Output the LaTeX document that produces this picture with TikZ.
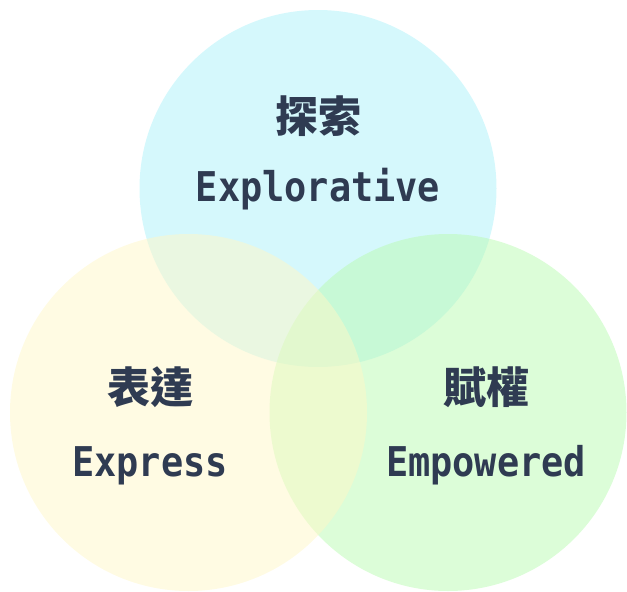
\documentclass[tikz,border=0pt]{standalone}
\usepackage{fontspec}
\newfontfamily\cjk{Noto Sans CJK TC}
\newfontfamily\latinmono[FakeStretch=0.9]{DejaVu Sans Mono}
\definecolor{txt}{HTML}{2F3B52}
\definecolor{topc}{HTML}{ABF1F9}
\definecolor{leftc}{HTML}{FFF7C7}
\definecolor{rightc}{HTML}{B9FBB1}
\begin{document}
\begin{tikzpicture}[x=1pt,y=-1pt,
  venn/.style={circle,minimum size=357pt,inner sep=0pt,draw=none,fill opacity=0.5},
  zh/.style={text=txt,font=\cjk\bfseries\fontsize{43}{43}\selectfont,inner sep=0pt},
  en/.style={text=txt,font=\latinmono\bfseries\fontsize{41}{41}\selectfont,inner sep=0pt,anchor=base}]
\useasboundingbox (0,0) rectangle (627,592);
\node[venn,fill=topc] (ct) at (318,188.5) {};
\node[venn,fill=rightc] (cr) at (448,412.5) {};
\node[venn,fill=leftc] (cl) at (188.5,412.5) {};
\node[zh] (zt) at (318,116) {探索};
\node[en] (et) at (318,201) {Explorative};
\node[zh] (zl) at (150,387) {表達};
\node[en] (el) at (150,476) {Express};
\node[zh] (zr) at (486,387) {賦權};
\node[en] (er) at (486,476) {Empowered};
\end{tikzpicture}
\end{document}
